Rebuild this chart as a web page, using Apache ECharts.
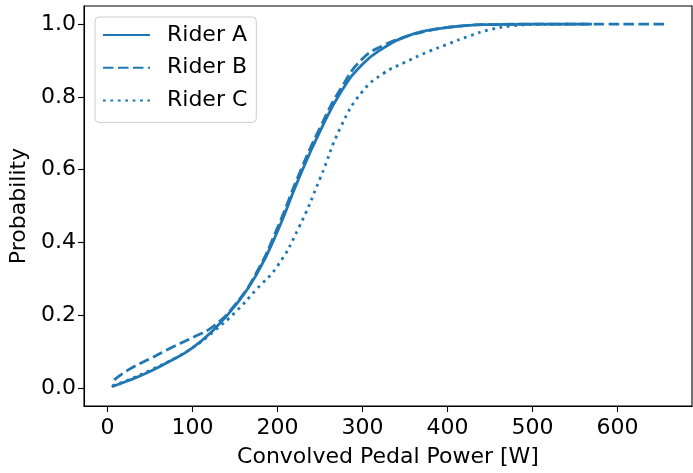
<!DOCTYPE html>
<html>
<head>
<meta charset="utf-8">
<script src="https://cdn.jsdelivr.net/npm/echarts@6/dist/echarts.min.js"></script>
<style>
  html, body { margin: 0; padding: 0; background: #fff; }
  #chart { width: 693px; height: 473px; }
</style>
</head>
<body>
<div id="chart"></div>
<script>
var myChart = echarts.init(document.getElementById('chart'), null, { renderer: 'canvas' });

// tick labels
var xTicks = [0, 100, 200, 300, 400, 500, 600];
var yTicks = [0, 0.2, 0.4, 0.6, 0.8, 1.0];
var legendNames = ['Rider A', 'Rider B', 'Rider C'];
var color = '#1f77b4';

// [power W, probability]
var riderA = [
    [5, 0.003], [25, 0.02], [50, 0.045], [75, 0.075], [100, 0.11],
    [125, 0.16], [150, 0.225], [175, 0.31], [200, 0.43], [225, 0.575],
    [250, 0.705], [275, 0.815], [300, 0.89], [325, 0.935], [350, 0.965],
    [375, 0.982], [400, 0.991], [425, 0.997], [450, 0.999], [500, 1.0], [570, 1.0]
];
var riderB = [
    [8, 0.022], [25, 0.05], [50, 0.08], [75, 0.11], [100, 0.138],
    [125, 0.17], [150, 0.228], [175, 0.315], [200, 0.44], [225, 0.585],
    [250, 0.715], [275, 0.825], [300, 0.905], [325, 0.942], [350, 0.965],
    [375, 0.981], [400, 0.991], [425, 0.997], [450, 0.999], [500, 1.0], [656, 1.0]
];
var riderC = [
    [6, 0.006], [25, 0.022], [50, 0.048], [75, 0.076], [100, 0.11],
    [125, 0.155], [150, 0.207], [175, 0.27], [200, 0.335], [225, 0.44],
    [250, 0.575], [275, 0.72], [300, 0.815], [325, 0.865], [350, 0.895],
    [375, 0.922], [400, 0.945], [425, 0.967], [450, 0.985], [475, 0.995],
    [500, 0.999], [560, 1.0]
];

var font = 'DejaVu Sans';

function makeSeries(name, data, dash) {
    return {
        name: name,
        type: 'line',
        data: data,
        symbol: 'none',
        smooth: 0.5,
        color: color,
        lineStyle: { color: color, width: 2.8, type: dash, cap: 'butt' },
        animation: false
    };
}

var option = {
    backgroundColor: '#fff',
    grid: {
        left: 83, right: 1, top: 6, bottom: 66,
        show: true,
        borderColor: '#000',
        borderWidth: 1.1,
        backgroundColor: 'transparent'
    },
    legend: {
        orient: 'vertical',
        left: 95,
        top: 17,
        data: legendNames,
        itemWidth: 47,
        itemHeight: 14,
        itemGap: 8.7,
        padding: [6, 9, 10, 7],
        itemStyle: { opacity: 0 },
        backgroundColor: 'rgba(255,255,255,0.8)',
        borderColor: '#cccccc',
        borderWidth: 1,
        borderRadius: 4,
        textStyle: {
            fontFamily: font,
            fontSize: 22,
            color: '#000',
            lineHeight: 24,
            padding: [0, 0, 0, 12]
        }
    },
    xAxis: {
        type: 'value',
        min: -27.5,
        max: 687.5,
        name: 'Convolved Pedal Power [W]',
        nameLocation: 'middle',
        nameGap: 40,
        nameTextStyle: { fontFamily: font, fontSize: 22, color: '#000' },
        axisLine: { show: true, onZero: false, lineStyle: { color: '#000', width: 1.1 } },
        axisTick: { show: true, length: 6, lineStyle: { color: '#000', width: 1.1 }, customValues: xTicks },
        axisLabel: {
            fontFamily: font, fontSize: 22, color: '#000', margin: 11,
            customValues: xTicks,
            formatter: function (v) { return String(v); }
        },
        splitLine: { show: false }
    },
    yAxis: {
        type: 'value',
        min: -0.05,
        max: 1.05,
        name: 'Probability',
        nameLocation: 'middle',
        nameGap: 54,
        nameTextStyle: { fontFamily: font, fontSize: 22, color: '#000' },
        axisLine: { show: true, onZero: false, lineStyle: { color: '#000', width: 1.1 } },
        axisTick: { show: true, length: 6, lineStyle: { color: '#000', width: 1.1 }, customValues: yTicks },
        axisLabel: {
            fontFamily: font, fontSize: 22, color: '#000', margin: 8,
            customValues: yTicks,
            formatter: function (v) { return v.toFixed(1); }
        },
        splitLine: { show: false }
    },
    series: [
        makeSeries('Rider A', riderA, 'solid'),
        makeSeries('Rider B', riderB, [10.5, 4.5]),
        makeSeries('Rider C', riderC, [2.8, 4.6])
    ]
};

myChart.setOption(option);
window.addEventListener('resize', myChart.resize);
</script>
</body>
</html>
